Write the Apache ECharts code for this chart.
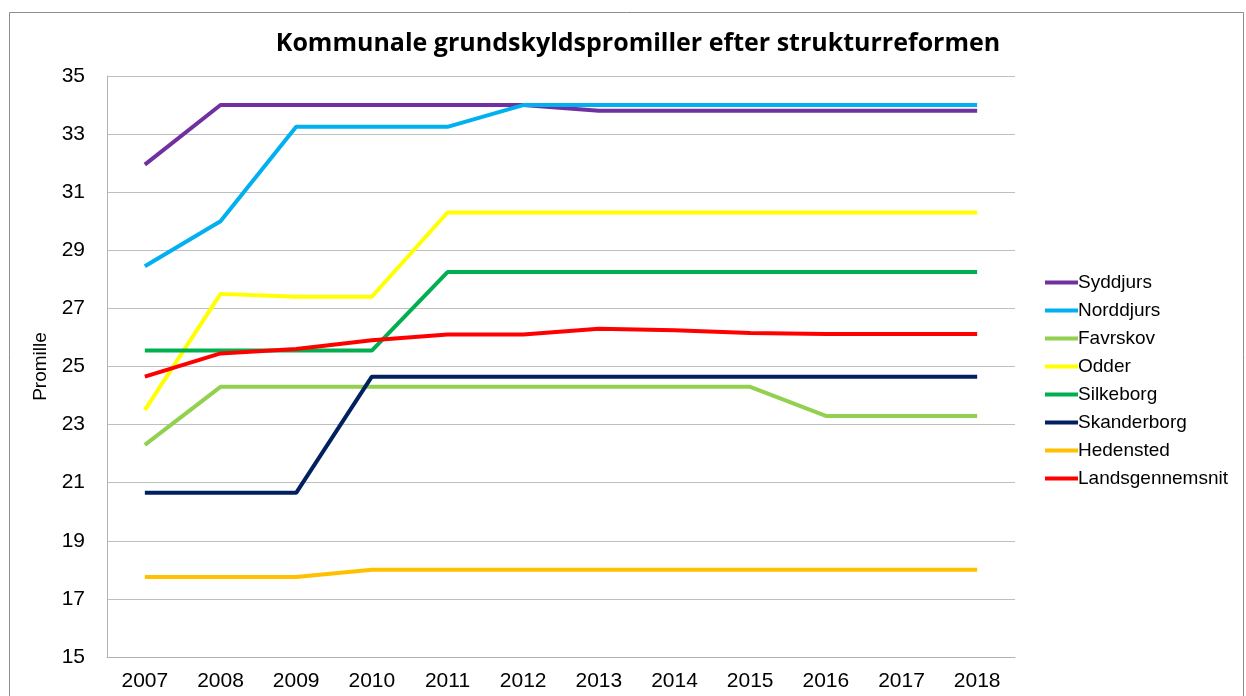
<!DOCTYPE html>
<html>
<head>
<meta charset="utf-8">
<script src="https://cdn.jsdelivr.net/npm/echarts@6/dist/echarts.min.js"></script>
<style>
  html, body { margin: 0; padding: 0; background: #fff; }
  #chart { width: 1246px; height: 696px; }
</style>
</head>
<body>
<div id="chart"></div>
<script>
// data
const years = ['2007', '2008', '2009', '2010', '2011', '2012', '2013', '2014', '2015', '2016', '2017', '2018']

const syddjurs = [31.95, 34.0, 34.0, 34.0, 34.0, 34.0, 33.8, 33.8, 33.8, 33.8, 33.8, 33.8]
const norddjurs = [28.45, 30.0, 33.25, 33.25, 33.25, 34.0, 34.0, 34.0, 34.0, 34.0, 34.0, 34.0]
const favrskov = [22.3, 24.3, 24.3, 24.3, 24.3, 24.3, 24.3, 24.3, 24.3, 23.3, 23.3, 23.3]
const odder = [23.5, 27.5, 27.4, 27.4, 30.3, 30.3, 30.3, 30.3, 30.3, 30.3, 30.3, 30.3]
const silkeborg = [25.55, 25.55, 25.55, 25.55, 28.25, 28.25, 28.25, 28.25, 28.25, 28.25, 28.25, 28.25]
const skanderborg = [20.65, 20.65, 20.65, 24.65, 24.65, 24.65, 24.65, 24.65, 24.65, 24.65, 24.65, 24.65]
const hedensted = [17.75, 17.75, 17.75, 18.0, 18.0, 18.0, 18.0, 18.0, 18.0, 18.0, 18.0, 18.0]
const landsgennemsnit = [24.65, 25.45, 25.6, 25.9, 26.1, 26.1, 26.3, 26.25, 26.15, 26.12, 26.12, 26.12]

const seriesList = [
  { name: 'Syddjurs', data: syddjurs, color: '#7030A0' },
  { name: 'Norddjurs', data: norddjurs, color: '#00B0F0' },
  { name: 'Favrskov', data: favrskov, color: '#92D050' },
  { name: 'Odder', data: odder, color: '#FFFF00' },
  { name: 'Silkeborg', data: silkeborg, color: '#00B050' },
  { name: 'Skanderborg', data: skanderborg, color: '#002060' },
  { name: 'Hedensted', data: hedensted, color: '#FFC000' },
  { name: 'Landsgennemsnit', data: landsgennemsnit, color: '#FF0000' }
]

const chart = echarts.init(document.getElementById('chart'))

chart.setOption({
  animation: false,
  textStyle: { fontFamily: 'Liberation Sans, Arial, sans-serif' },
  title: {
    text: 'Kommunale grundskyldspromiller efter strukturreformen',
    left: 633,
    textAlign: 'center',
    top: 26,
    textStyle: {
      fontFamily: 'Open Sans, sans-serif',
      fontSize: 25,
      fontWeight: 'bold',
      color: '#000'
    }
  },
  graphic: [
    {
      type: 'rect',
      shape: { x: 9.5, y: 12.5, width: 1234, height: 700 },
      style: { fill: 'none', stroke: '#8c8c8c', lineWidth: 1 },
      silent: true
    }
  ],
  legend: {
    orient: 'vertical',
    left: 1040,
    top: 268,
    itemWidth: 33,
    itemHeight: 4,
    itemGap: 9,
    textStyle: { fontSize: 19, color: '#000', padding: [0, 0, 0, -5] },
    data: seriesList.map(s => ({ name: s.name, icon: 'path://M0,0 L33,0 L33,4 L0,4 Z' }))
  },
  grid: { left: 107, right: 231, top: 76, bottom: 39 },
  xAxis: {
    type: 'category',
    data: years,
    boundaryGap: true,
    axisLine: { lineStyle: { color: '#b3b3b3', width: 1 } },
    axisTick: { show: false },
    axisLabel: { fontSize: 21, color: '#000', margin: 14 }
  },
  yAxis: {
    type: 'value',
    min: 15,
    max: 35,
    interval: 2,
    name: 'Promille',
    nameLocation: 'middle',
    nameGap: 55,
    nameTextStyle: { fontSize: 19, color: '#000' },
    axisLine: { show: true, lineStyle: { color: '#b3b3b3', width: 1 } },
    axisTick: { show: false },
    axisLabel: { fontSize: 21, color: '#000', margin: 22 },
    splitLine: { lineStyle: { color: '#bfbfbf', width: 1 } }
  },
  series: seriesList.map(s => ({
    name: s.name,
    type: 'line',
    data: s.data,
    symbol: 'none',
    color: s.color,
    lineStyle: { width: 4, color: s.color }
  }))
})
</script>
</body>
</html>
